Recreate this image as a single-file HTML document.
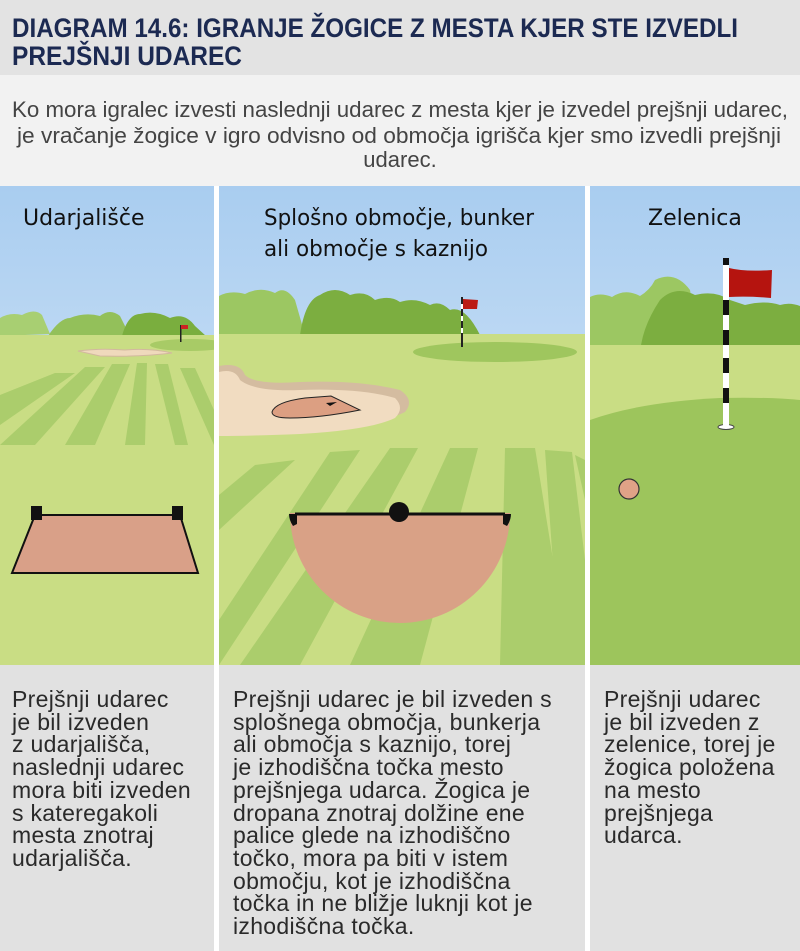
<!DOCTYPE html>
<html><head><meta charset="utf-8"><style>
body{margin:0;width:800px;height:951px;position:relative;overflow:hidden;background:#fff;font-family:"Liberation Sans",sans-serif}
.t{position:absolute;white-space:pre;color:#2a2a2a;font-size:23px;line-height:22.7px;letter-spacing:0.3px}
</style></head><body>
<svg width="800" height="951" style="position:absolute;left:0;top:0" xmlns="http://www.w3.org/2000/svg">
<defs>
<linearGradient id="sky" x1="0" y1="0" x2="0" y2="1"><stop offset="0" stop-color="#a9cdf0"/><stop offset="1" stop-color="#e2eefa"/></linearGradient>
<clipPath id="c1"><rect x="0" y="186" width="214" height="479"/></clipPath>
<clipPath id="c2"><rect x="219" y="186" width="366" height="479"/></clipPath>
<clipPath id="c3"><rect x="590" y="186" width="210" height="479"/></clipPath>
</defs>
<rect x="0" y="0" width="800" height="75" fill="#e3e3e3"/>
<rect x="0" y="75" width="800" height="111" fill="#f2f2f2"/>
<rect x="0" y="665" width="800" height="286" fill="#e1e1e1"/>
<rect x="214" y="665" width="5" height="286" fill="#fff"/>
<rect x="585" y="665" width="5" height="286" fill="#fff"/>
<text x="12" y="37" font-family="'Liberation Sans Narrow','Liberation Sans',sans-serif" font-weight="bold" font-size="27" fill="#1c2a52" textLength="726" lengthAdjust="spacingAndGlyphs">DIAGRAM 14.6:  IGRANJE ŽOGICE Z MESTA KJER STE IZVEDLI</text>
<text x="12" y="65" font-family="'Liberation Sans Narrow','Liberation Sans',sans-serif" font-weight="bold" font-size="27" fill="#1c2a52" textLength="230" lengthAdjust="spacingAndGlyphs">PREJŠNJI UDAREC</text>
<g font-family="'Liberation Sans',sans-serif" font-size="22" fill="#444">
<text x="12" y="117" textLength="776" lengthAdjust="spacingAndGlyphs">Ko mora igralec izvesti naslednji udarec z mesta kjer je izvedel prejšnji udarec,</text>
<text x="17" y="143" textLength="764" lengthAdjust="spacingAndGlyphs">je vračanje žogice v igro odvisno od območja igrišča kjer smo izvedli prejšnji</text>
<text x="400" y="167" text-anchor="middle">udarec.</text>
</g>
<!-- panel 1 -->
<g clip-path="url(#c1)">
<rect x="0" y="186" width="214" height="479" fill="url(#sky)"/>
<path d="M0,318 Q10,312 22,315 Q35,308 42,315 L50,334 L0,336Z" fill="#a8cf72"/>
<path d="M48,336 Q60,318 70,318 Q85,312 100,316 Q110,308 120,316 L130,336Z" fill="#93c05a"/>
<path d="M122,336 Q128,314 140,314 Q155,310 170,318 Q185,312 195,326 L206,336Z" fill="#7aae3e"/>
<rect x="0" y="335" width="214" height="330" fill="#c9dd84"/>
<ellipse cx="190" cy="345" rx="40" ry="6" fill="#a8cb66"/>
<path d="M78,351 Q100,348 125,350 Q150,348 172,353 Q140,357 100,356Z" fill="#efd9bc" stroke="#d2b89e" stroke-width="1"/>
<rect x="180" y="325" width="1.5" height="17" fill="#222"/>
<rect x="181" y="325" width="7" height="4" fill="#c22"/>
<g fill="#abcd6c">
<polygon points="0,395 55,373 75,373 0,425"/>
<polygon points="0,445 35,445 105,367 85,367"/>
<polygon points="65,445 95,445 130,364 112,364"/>
<polygon points="125,445 145,445 147,363 137,363"/>
<polygon points="175,445 155,364 168,364 188,445"/>
<polygon points="214,445 180,368 195,368 214,410"/>
</g>
<polygon points="35,515 180,515 198,573 12,573" fill="#d9a088" stroke="#111" stroke-width="2"/>
<rect x="31" y="506" width="11" height="14" fill="#111"/>
<rect x="172" y="506" width="11" height="14" fill="#111"/>
</g>
<!-- panel 2 -->
<g clip-path="url(#c2)">
<rect x="219" y="186" width="366" height="479" fill="url(#sky)"/>
<path d="M219,296 Q230,290 245,294 Q260,286 275,293 Q285,285 295,300 L305,335 L219,335Z" fill="#9cc762"/>
<path d="M300,335 Q305,300 320,295 Q335,285 350,295 Q365,290 375,300 Q390,295 400,302 Q415,297 430,305 Q440,300 450,310 Q465,305 480,335Z" fill="#7cae40"/>
<rect x="219" y="334" width="366" height="331" fill="#c9dd84"/>
<ellipse cx="495" cy="352" rx="82" ry="10" fill="#9fc65e"/>
<path d="M219,366 Q240,362 245,375 Q255,385 300,382 Q360,380 400,390 Q415,400 405,412 Q380,425 300,432 Q250,436 219,436Z" fill="#d4bca0"/>
<path d="M219,372 Q235,368 240,380 Q255,392 300,390 Q360,388 395,398 Q405,408 395,418 Q370,430 300,434 Q250,436 219,436Z" fill="#f1dcc1"/>
<path d="M272,412 Q275,402 305,398 L331,396 L360,410 Q320,418 290,418 Q272,418 272,412Z" fill="#dc9f82" stroke="#222" stroke-width="1"/>
<path d="M326,403 L337,402 L330,406Z" fill="#111"/>
<rect x="461" y="297" width="2" height="50" fill="#222"/>
<rect x="461" y="304" width="2" height="5" fill="#fff"/><rect x="461" y="316" width="2" height="5" fill="#fff"/><rect x="461" y="328" width="2" height="5" fill="#fff"/>
<path d="M463,299 L478,300 L477,309 L463,309Z" fill="#bb1a14"/>
<g fill="#abcd6c">
<polygon points="219,495 255,465 295,460 219,530"/>
<polygon points="219,620 330,452 360,450 219,665 "/>
<polygon points="240,665 390,448 418,448 300,665"/>
<polygon points="350,665 450,448 478,448 420,665"/>
<polygon points="500,665 505,448 535,448 570,665"/>
<polygon points="560,665 545,450 572,452 585,560 585,665"/>
<polygon points="575,455 585,460 585,500"/>
</g>
<path d="M290,513 L510,513 A110,110 0 0 1 290,513Z" fill="#d9a186"/>
<line x1="295" y1="514" x2="505" y2="514" stroke="#111" stroke-width="3"/>
<path d="M289,514 Q289,520 293,526 L297,524 L297,514Z" fill="#111"/>
<path d="M511,514 Q511,520 507,526 L503,524 L503,514Z" fill="#111"/>
<circle cx="399" cy="512" r="10" fill="#111"/>
</g>
<!-- panel 3 -->
<g clip-path="url(#c3)">
<rect x="590" y="186" width="210" height="479" fill="url(#sky)"/>
<path d="M590,297 Q600,292 612,297 Q625,288 640,296 Q650,290 655,280 Q675,270 690,290 L700,345 L590,345Z" fill="#9cc762"/>
<path d="M640,358 Q640,330 660,300 Q675,285 695,295 Q715,290 730,300 L745,305 Q765,300 780,305 Q790,302 800,306 L800,355Z" fill="#7cae40"/>
<rect x="590" y="345" width="210" height="320" fill="#c9dd84"/>
<path d="M590,420 Q640,402 720,398 Q770,397 800,400 L800,665 L590,665Z" fill="#9dc55c"/>
<ellipse cx="726" cy="427" rx="8" ry="2.5" fill="#fff" stroke="#444" stroke-width="1"/>
<rect x="723" y="258" width="6" height="170" fill="#fff"/>
<g fill="#111"><rect x="723" y="258" width="6" height="7"/><rect x="723" y="300" width="6" height="15"/><rect x="723" y="330" width="6" height="15"/><rect x="723" y="358" width="6" height="15"/><rect x="723" y="388" width="6" height="15"/></g>
<path d="M729,268 Q745,272 772,270 L771,298 Q750,296 729,297Z" fill="#b5140f"/>
<circle cx="629" cy="489" r="10" fill="#e0a287" stroke="#333" stroke-width="1.2"/>
</g>
<g font-size="22" fill="#111" font-family="'DejaVu Sans',sans-serif">
<text x="23" y="225">Udarjališče</text>
<text x="264" y="225" textLength="270" lengthAdjust="spacingAndGlyphs">Splošno območje, bunker</text>
<text x="264" y="256" textLength="224" lengthAdjust="spacingAndGlyphs">ali območje s kaznijo</text>
<text x="648" y="225">Zelenica</text>
</g>
</svg>
<div class="t" style="left:12px;top:688px">Prejšnji udarec
je bil izveden
z udarjališča,
naslednji udarec
mora biti izveden
s kateregakoli
mesta znotraj
udarjališča.</div>
<div class="t" style="left:233px;top:688px">Prejšnji udarec je bil izveden s
splošnega območja, bunkerja
ali območja s kaznijo, torej
je izhodiščna točka mesto
prejšnjega udarca. Žogica je
dropana znotraj dolžine ene
palice glede na izhodiščno
točko, mora pa biti v istem
območju, kot je izhodiščna
točka in ne bližje luknji kot je
izhodiščna točka.</div>
<div class="t" style="left:604px;top:688px">Prejšnji udarec
je bil izveden z
zelenice, torej je
žogica položena
na mesto
prejšnjega
udarca.</div>
</body></html>
